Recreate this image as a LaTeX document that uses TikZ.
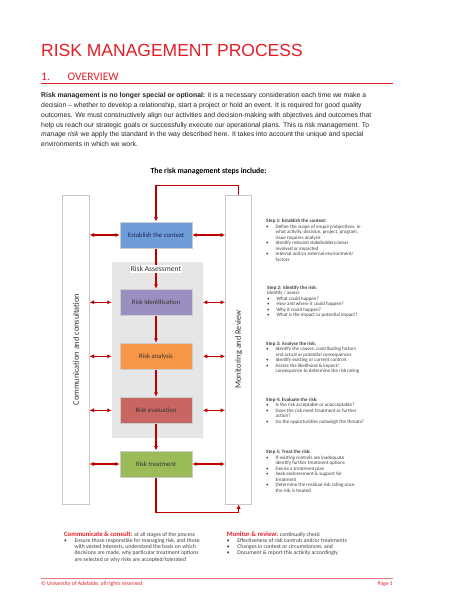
\documentclass[tikz,border=0pt]{standalone}
\usepackage{fontspec}
\setmainfont{Liberation Sans}
\newfontfamily\calibri{Carlito}
\usetikzlibrary{arrows.meta}
\definecolor{titlered}{RGB}{226,30,38}
\definecolor{flowred}{RGB}{192,0,0}
\definecolor{ctxblue}{RGB}{110,156,216}
\definecolor{ctxtext}{RGB}{25,40,85}
\definecolor{identpurple}{RGB}{155,142,192}
\definecolor{analorange}{RGB}{247,150,70}
\definecolor{evalred}{RGB}{200,102,98}
\definecolor{treatgreen}{RGB}{155,187,89}
\definecolor{assessgray}{RGB}{230,230,230}
\definecolor{framegray}{RGB}{200,200,200}
\definecolor{footred}{RGB}{236,120,128}
\newcommand{\stepbul}{\makebox[9.5pt][l]{\textbullet}}
\newcommand{\stepind}{\hspace*{9.5pt}}
\newcommand{\notebul}{\makebox[10.5pt][l]{\textbullet}}
\newcommand{\noteind}{\hspace*{10.5pt}}
\begin{document}
\begin{tikzpicture}[x=1pt, y=-1pt,
  stagebox/.style={draw=black!20, minimum width=72pt, minimum height=26.6pt,
                   inner sep=0pt, font=\calibri\fontsize{6.7}{7.5}\selectfont, text=black!80},
  sidebox/.style={draw=framegray, line width=0.8pt, fill=white,
                  minimum width=26.3pt, minimum height=309pt, inner sep=0pt},
  sidelabel/.style={rotate=90, font=\calibri\fontsize{8.3}{9}\selectfont, text=black!80},
  flow/.style={-{Latex[length=4.5pt,width=4.2pt]}, flowred, line width=1.1pt},
  twoway/.style={{Latex[length=4.5pt,width=4.2pt]}-{Latex[length=4.5pt,width=4.2pt]},
                 flowred, line width=1.1pt},
  steptext/.style={anchor=north west, align=left, inner sep=0pt,
                   font=\calibri\fontsize{5}{5.45}\selectfont, text=black!75},
  notetext/.style={anchor=north west, align=left, inner sep=0pt,
                   font=\calibri\fontsize{5.7}{6.2}\selectfont, text=black!75}]
  \useasboundingbox[fill=white] (0,0) rectangle (474,613);
  % page heading
  \node[anchor=base west, inner sep=0pt, text=titlered,
        font=\fontsize{17.5}{20}\selectfont] (title) at (41,56.5) {RISK MANAGEMENT PROCESS};
  \node[anchor=base west, inner sep=0pt, text=titlered,
        font=\calibri\fontsize{11.5}{13}\selectfont] (secnum) at (41,80) {1.};
  \node[anchor=base west, inner sep=0pt, text=titlered,
        font=\calibri\fontsize{11.5}{13}\selectfont] (sectitle) at (67.5,80) {OVERVIEW};
  \draw[titlered, line width=0.8pt] (41,83.3) -- (393,83.3);
  \node[anchor=north west, align=left, inner sep=0pt, text=black!85,
        font=\fontsize{6.85}{9.8}\selectfont] (intro) at (41,92.6)
    {\textbf{Risk management is no longer special or optional:} it is a necessary consideration each time we make a\\
     decision -- whether to develop a relationship, start a project or hold an event. It is required for good quality\\
     outcomes. We must constructively align our activities and decision-making with objectives and outcomes that\\
     help us reach our strategic goals or successfully execute our operational plans. This is risk management. To\\
     \textit{manage risk} we apply the standard in the way described here. It takes into account the unique and special\\
     environments in which we work.};
  \node[font=\calibri\bfseries\fontsize{7.8}{9}\selectfont] (steps) at (208.5,171)
    {The risk management steps include:};
  % side frames
  \node[sidebox] (comm) at (76,349.5) {};
  \node[sidelabel] (commlabel) at (comm.center) {Communication and consultation};
  \node[sidebox] (mon) at (238.7,349.5) {};
  \node[sidelabel] (monlabel) at (mon.center) {Monitoring and Review};
  % the assessment block and the five stages
  \node[fill=assessgray, minimum width=90.7pt, minimum height=176pt, inner sep=0pt]
    (assess) at (157.3,350.3) {};
  \node[stagebox, fill=ctxblue, text=ctxtext] (ctx)   at (156,235)   {Establish the context};
  \node[stagebox, fill=identpurple]           (ident) at (156,302.3) {Risk identification};
  \node[stagebox, fill=analorange]            (anal)  at (156,356.3) {Risk analysis};
  \node[stagebox, fill=evalred]               (eval)  at (156,410.3) {Risk evaluation};
  \node[stagebox, fill=treatgreen]            (treat) at (156,464)   {Risk treatment};
  % downward flow
  \draw[flow] (ctx) -- (ident);
  \draw[flow] (ident) -- (anal);
  \draw[flow] (anal) -- (eval);
  \draw[flow] (eval) -- (treat);
  \draw[flow] (mon.north) -- ++(0,-9) -| (ctx.north);
  \draw[flow] (treat.south) -- ++(0,35.4) -| (mon.south);
  \node[fill=white, inner sep=1pt, font=\calibri\fontsize{7.6}{8}\selectfont, text=black!80]
    (assesslabel) at (156,269) {Risk Assessment};
  % links to the side frames
  \draw[twoway] (comm.east |- ctx) -- (ctx.west);
  \draw[twoway] (ctx.east) -- (mon.west |- ctx);
  \foreach \s in {ident, anal, eval} {
    \draw[twoway] (comm.east |- \s) -- (assess.west |- \s);
    \draw[twoway] (assess.east |- \s) -- (mon.west |- \s);
  }
  \draw[twoway] (comm.east |- treat) -- (treat.west);
  \draw[twoway] (treat.east) -- (mon.west |- treat);
  % step notes
  \node[steptext] (step1) at (266,219.2)
    {\textbf{Step 1: Establish the context:}\\
     \stepbul Define the scope of enquiry/objectives: ie\\
     \stepind what activity, decision, project, program,\\
     \stepind issue requires analysis\\
     \stepbul Identify relevant stakeholders/areas\\
     \stepind involved or impacted\\
     \stepbul Internal and/or external environment/\\
     \stepind factors};
  \node[steptext] (step2) at (267,285.8)
    {\textbf{Step 2: Identify the risk:}\\
     Identify / assess\\
     \stepbul What could happen?\\
     \stepbul How and where it could happen?\\
     \stepbul Why it could happen?\\
     \stepbul What is the impact or potential impact?};
  \node[steptext] (step3) at (266,341.8)
    {\textbf{Step 3: Analyse the risk:}\\
     \stepbul Identify the causes, contributing factors\\
     \stepind and actual or potential consequences\\
     \stepbul Identify existing or current controls\\
     \stepbul Assess the likelihood \& impact/\\
     \stepind consequence to determine the risk rating};
  \node[steptext] (step4) at (266,397.8)
    {\textbf{Step 4: Evaluate the risk:}\\
     \stepbul Is the risk acceptable or unacceptable?\\
     \stepbul Does the risk meet treatment or further\\
     \stepind action?\\
     \stepbul Do the opportunities outweigh the threats?};
  \node[steptext] (step5) at (266,450.2)
    {\textbf{Step 5: Treat the risk:}\\
     \stepbul If existing controls are inadequate\\
     \stepind identify further treatment options\\
     \stepbul Devise a treatment plan\\
     \stepbul Seek endorsement \& support for\\
     \stepind treatment\\
     \stepbul Determine the residual risk rating once\\
     \stepind the risk is treated};
  % closing notes
  \node[notetext] (consult) at (64,531.3)
    {{\color{titlered}\bfseries\fontsize{6.7}{6.2}\selectfont Communicate \& consult:} at all stages of the process\\
     \notebul Ensure those responsible for managing risk, and those\\
     \noteind with vested interests, understand the basis on which\\
     \noteind decisions are made, why particular treatment options\\
     \noteind are selected or why risks are accepted/tolerated};
  \node[notetext] (review) at (226.7,531.3)
    {{\color{titlered}\bfseries\fontsize{6.7}{6.2}\selectfont Monitor \& review:} continually check\\
     \notebul Effectiveness of risk controls and/or treatments\\
     \notebul Changes in context or circumstances, and\\
     \notebul Document \& report this activity accordingly};
  % footer
  \draw[footred, line width=0.8pt] (41,578.3) -- (393,578.3);
  \node[anchor=base west, inner sep=0pt, text=titlered, font=\calibri\fontsize{5.7}{6}\selectfont]
    (copy) at (41,585.3) {© University of Adelaide, all rights reserved};
  \node[anchor=base east, inner sep=0pt, text=titlered, font=\calibri\fontsize{5.7}{6}\selectfont]
    (pagenum) at (393,585.3) {Page 1};
\end{tikzpicture}
\end{document}
